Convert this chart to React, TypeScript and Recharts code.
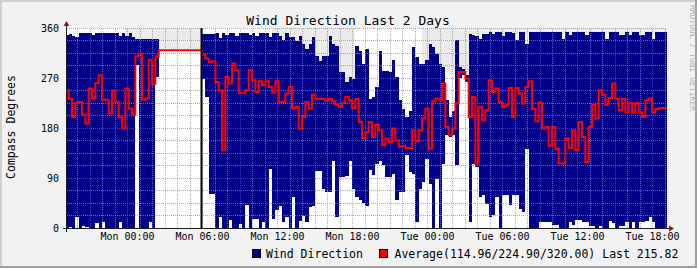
import React from "react";
import {
  ComposedChart,
  Area,
  Line,
  XAxis,
  YAxis,
  CartesianGrid,
  ReferenceLine,
} from "recharts";

// 16-minute buckets, time in hours relative to Mon 00:00
const START_HOUR = -4.97;
const STEP_HOURS = 16 / 60;

// average direction per bucket (red line)
const AVG = [
  248, 232, 200, 225, 227, 204, 188, 251, 233, 261,
  275, 231, 231, 206, 248, 227, 200, 179, 251, 215,
  204, 309, 314, 231, 233, 303, 259, 309, 320, 320,
  320, 320, 320, 320, 320, 320, 320, 320, 320, 320,
  320, 311, 305, 299, 300, 263, 248, 140, 272, 260,
  296, 284, 243, 243, 248, 284, 266, 245, 264, 257,
  264, 254, 244, 264, 227, 227, 242, 254, 215, 218,
  179, 200, 227, 215, 240, 232, 232, 232, 229, 232,
  228, 222, 218, 225, 236, 230, 216, 232, 191, 162,
  173, 191, 164, 186, 176, 149, 161, 155, 179, 158,
  146, 148, 144, 144, 176, 156, 176, 197, 215, 143,
  228, 233, 231, 260, 182, 167, 179, 224, 281, 281,
  269, 200, 236, 116, 218, 194, 212, 266, 245, 251,
  227, 218, 221, 252, 200, 252, 242, 224, 254, 264,
  214, 192, 226, 179, 182, 148, 182, 142, 116, 116,
  161, 144, 176, 140, 191, 164, 119, 182, 222, 197,
  248, 240, 222, 234, 260, 232, 212, 232, 209, 225,
  208, 225, 208, 200, 230, 233, 208, 214, 216, 216,
  216,
];

// lowest sample per bucket (bottom of the blue band)
const MIN = [
  0, 2, 0, 20, 0, 4, 2, 0, 0, 9,
  0, 11, 0, 0, 0, 0, 11, 0, 0, 0,
  0, 293, 0, 0, 0, 11, 0, 272, null, null,
  null, null, null, null, null, null, null, null, null, null,
  null, 269, 236, 62, 62, 0, 20, 0, 0, 14,
  0, 0, 8, 0, 41, 0, 17, 17, 0, 11,
  0, 107, 17, 32, 40, 11, 20, 0, 55, 0,
  13, 22, 10, 37, 40, 103, 103, 70, 64, 64,
  121, 20, 91, 91, 94, 120, 70, 55, 50, 45,
  40, 104, 95, 115, 120, 114, 91, 92, 98, 50,
  65, 65, 131, 101, 98, 11, 71, 83, 125, 80,
  0, 89, 0, 116, 167, 164, 167, 113, 270, 276,
  262, 11, 116, 110, 56, 59, 44, 20, 23, 56,
  0, 59, 59, 41, 59, 59, 35, 29, 143, 0,
  0, 0, 11, 11, 11, 11, 6, 6, 0, 0,
  0, 10, 6, 14, 14, 11, 11, 4, 4, 0,
  4, 0, 0, 13, 9, 0, 4, 4, 11, 0,
  11, 0, 11, 11, 13, 20, 11, 0, 0, 0,
  0,
];

// highest sample per bucket (top of the blue band)
const MAX = [
  347, 350, 346, 344, 351, 351, 351, 351, 347, 351,
  351, 351, 351, 351, 351, 351, 346, 351, 346, 351,
  344, 340, 341, 341, 341, 341, 341, 341, null, null,
  null, null, null, null, null, null, null, null, null, null,
  null, 350, 350, 350, 350, 351, 342, 351, 348, 351,
  351, 346, 351, 351, 351, 348, 351, 346, 351, 351,
  351, 344, 351, 351, 346, 338, 351, 344, 344, 337,
  346, 331, 322, 331, 344, 310, 301, 310, 310, 346,
  331, 328, 280, 280, 262, 271, 268, 328, 319, 295,
  322, 232, 235, 253, 319, 283, 283, 280, 302, 272,
  230, 215, 200, 210, 326, 308, 296, 296, 302, 332,
  326, 314, 296, 290, 230, 200, 210, 338, 290, 286,
  275, 350, 348, 345, 340, 350, 350, 352, 350, 352,
  352, 345, 352, 352, 351, 338, 352, 352, 332, 352,
  352, 352, 352, 352, 352, 352, 352, 352, 352, 340,
  352, 347, 352, 352, 352, 352, 347, 352, 352, 352,
  352, 352, 341, 352, 352, 352, 347, 347, 352, 347,
  352, 352, 347, 347, 352, 352, 341, 352, 352, 352,
  352,
];

// lower edge of the light grey shading that reaches up to 360
const GRAY_LO = [
  null, null, null, null, null, null, null, null, null, null,
  null, null, null, null, null, null, null, null, 330, 330,
  330, 330, 330, 330, 330, 330, 330, 320, 320, 320,
  320, 320, 320, 320, 320, 320, 320, 320, 320, 320,
  320, null, null, null, null, null, null, null, null, null,
  null, null, null, null, null, null, null, null, null, null,
  null, null, 250, 250, 250, 250, 250, 250, 250, 250,
  250, 250, 250, 250, 250, 250, 250, 250, 250, 250,
  250, 250, 250, 250, 250, 250, 250, null, null, null,
  null, null, null, null, null, null, null, null, null, null,
  null, null, null, null, null, null, null, 280, 280, 280,
  280, 280, 280, 280, 280, 280, 280, 280, 280, 280,
  280, 350, 350, 350, 350, 350, 350, 350, 350, 350,
  350, 350, 350, 350, 350, 350, 350, 350, 350, 350,
  350, 350, 350, 350, 350, 350, 350, 350, 350, 350,
  350, 350, 350, 350, 350, 350, 350, 350, 350, 350,
  350, 350, 350, 350, 350, 350, 350, 350, 350, 350,
  350, 350, 350, 350, 350, 350, 350, 350, 350, 350,
  350,
];

const Y_TICKS = [0, 90, 180, 270, 360];
const X_TICKS = [0, 6, 12, 18, 24, 30, 36, 42];
const DAYS = ["Mon", "Tue"];
const VRULE_HOUR = 5.92;

const FONT = "'DejaVu Sans Mono', monospace";
const BLUE = "#000088";

// each bucket becomes a start and an end row so the areas step like rrdtool
const rows: any[] = [];
AVG.forEach((avg, i) => {
  const t0 = START_HOUR + i * STEP_HOURS;
  const band = MIN[i] == null ? null : [MIN[i], MAX[i]];
  const gray = GRAY_LO[i] == null ? null : [GRAY_LO[i], 360];
  rows.push({ t: t0, avg, band, gray });
  rows.push({ t: t0 + STEP_HOURS, avg, band, gray });
});

const minorY: number[] = [];
for (let v = 22.5; v < 360; v += 22.5) if (v % 90 !== 0) minorY.push(v);
const majorY = [90, 180, 270, 360];
const minorX: number[] = [];
const majorX: number[] = [];
for (let h = -4; h <= 43; h++) (h % 3 === 0 ? majorX : minorX).push(h);

const fmtHour = (h: number) => {
  const day = DAYS[Math.floor(h / 24)];
  const hh = String(((h % 24) + 24) % 24).padStart(2, "0");
  return `${day} ${hh}:00`;
};

const GRID = "rgba(143,143,143,0.75)";
const MGRID = "rgba(222,79,79,0.6)";

export default function App() {
  return (
    <div style={{ position: "absolute", left: 0, top: 0, width: 697, height: 268, background: "#f2f2f2" }}>
      <ComposedChart
        width={697}
        height={268}
        data={rows}
        margin={{ top: 28, right: 30, bottom: 10, left: 7 }}
      >
        <CartesianGrid fill="#ffffff" horizontal={false} vertical={false} />
        <XAxis
          dataKey="t"
          type="number"
          domain={[-4.84, 43.16]}
          allowDataOverflow
          ticks={X_TICKS}
          tickFormatter={fmtHour}
          height={30}
          axisLine={false}
          tickLine={false}
          tickSize={2}
          tickMargin={3}
          tick={{ fontFamily: FONT, fontSize: 10, fill: "#000" }}
        />
        <YAxis
          type="number"
          domain={[0, 360]}
          ticks={Y_TICKS}
          width={60}
          axisLine={false}
          tickLine={false}
          tickSize={2}
          tickMargin={6}
          tick={{ fontFamily: FONT, fontSize: 10, fill: "#000" }}
        />
        <Area
          dataKey="gray"
          type="linear"
          fill="#ebebeb"
          fillOpacity={1}
          stroke="none"
          isAnimationActive={false}
          shapeRendering="crispEdges"
        />
        <Area
          dataKey="band"
          type="linear"
          fill={BLUE}
          fillOpacity={1}
          stroke="none"
          isAnimationActive={false}
          shapeRendering="crispEdges"
        />
        {minorY.map((v) => (
          <ReferenceLine key={"my" + v} y={v} stroke={GRID} strokeDasharray="1 1" shapeRendering="crispEdges" />
        ))}
        {minorX.map((h) => (
          <ReferenceLine key={"mx" + h} x={h} stroke={GRID} strokeDasharray="1 1" shapeRendering="crispEdges" />
        ))}
        {majorY.map((v) => (
          <ReferenceLine key={"My" + v} y={v} stroke={MGRID} strokeDasharray="1 1" shapeRendering="crispEdges" />
        ))}
        {majorX.map((h) => (
          <ReferenceLine key={"Mx" + h} x={h} stroke={MGRID} strokeDasharray="1 1" shapeRendering="crispEdges" />
        ))}
        <Line
          dataKey="avg"
          type="linear"
          stroke="#ff0000"
          strokeWidth={2}
          dot={false}
          activeDot={false}
          isAnimationActive={false}
        />
        <ReferenceLine x={VRULE_HOUR} stroke="#000" strokeWidth={2} />
      </ComposedChart>

      <svg
        width={697}
        height={268}
        style={{ position: "absolute", left: 0, top: 0, pointerEvents: "none" }}
      >
        {/* frame */}
        <rect x={0} y={0} width={697} height={2} fill="#cfcfcf" />
        <rect x={0} y={0} width={2} height={268} fill="#cfcfcf" />
        <rect x={0} y={266} width={697} height={2} fill="#9e9e9e" />
        <rect x={695} y={0} width={2} height={268} fill="#9e9e9e" />

        {/* axes with arrows */}
        <line x1={63} y1={228.5} x2={670} y2={228.5} stroke="#1f1f1f" strokeWidth={1} />
        <line x1={66.5} y1={232} x2={66.5} y2={25} stroke="#1f1f1f" strokeWidth={1} />
        <polygon points="669,225.5 674,228.5 669,231.5" fill="#801f1f" />
        <polygon points="63.5,26 66.5,21 69.5,26" fill="#801f1f" />

        <text x={348} y={25} textAnchor="middle" fontFamily={FONT} fontSize={13} fill="#000">
          Wind Direction Last 2 Days
        </text>
        <text
          transform="translate(15,127) rotate(-90)"
          textAnchor="middle"
          fontFamily={FONT}
          fontSize={11.5}
          fill="#000"
        >
          Compass Degrees
        </text>
        <text
          transform="translate(689.5,5) rotate(90)"
          fontFamily={FONT}
          fontSize={8}
          fill="#b0b0b0"
        >
          RRDTOOL / TOBI OETIKER
        </text>

        {/* legend */}
        <rect x={252.5} y={249.5} width={8} height={8} fill={BLUE} stroke="#000" />
        <text x={266} y={257.5} fontFamily={FONT} fontSize={11.5} fill="#000">
          Wind Direction
        </text>
        <rect x={379.5} y={249.5} width={8} height={8} fill="#ff0000" stroke="#000" />
        <text x={394.5} y={257.5} fontFamily={FONT} fontSize={11.5} fill="#000">
          Average(114.96/224.90/320.00) Last 215.82
        </text>
      </svg>
    </div>
  );
}
